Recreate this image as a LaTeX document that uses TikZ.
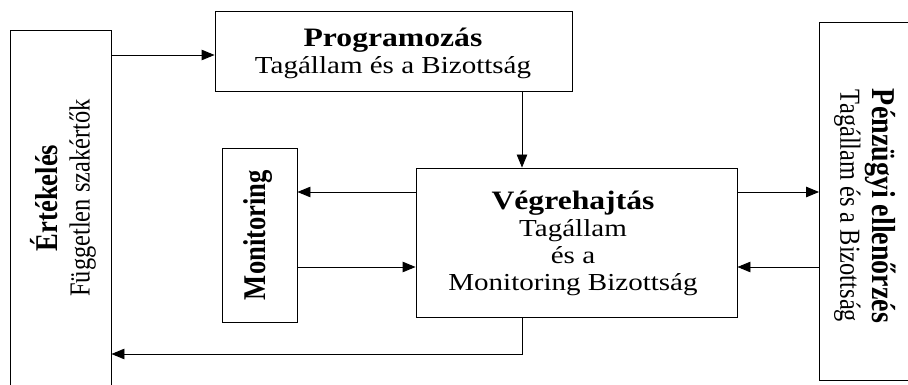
\documentclass[tikz,border=0pt]{standalone}
\usepackage{fontspec}
\setmainfont{Liberation Serif}
\usetikzlibrary{arrows.meta}
\begin{document}
\begin{tikzpicture}[x=1pt,y=-1pt,
  line width=0.9pt,
  boxstyle/.style={draw, line width=0.9pt, inner sep=0pt, fill=none},
  lbl/.style={align=center, inner sep=0pt, xscale=1.19,
    font=\fontsize{24.4}{27}\selectfont},
  arr/.style={-{Triangle[length=13pt,width=10.5pt]}}
]
\newcommand{\hdtxt}[1]{{\fontsize{26.6}{27}\selectfont\bfseries #1}}
\useasboundingbox (0,0) rectangle (908,385);
% boxes
\node[boxstyle, minimum width=101pt, minimum height=370pt] (eval) at (60.5,215) {};
\node[boxstyle, minimum width=357pt, minimum height=80pt] (prog) at (393.5,51) {};
\node[boxstyle, minimum width=321pt, minimum height=149pt] (vegre) at (576.5,242.5) {};
\node[boxstyle, minimum width=75pt, minimum height=174pt] (mon) at (259.5,235) {};
\node[boxstyle, minimum width=110pt, minimum height=358pt] (penz) at (874.5,201) {};
% labels
\node[lbl, rotate=90] (evaltxt) at (63,198) {\hdtxt{Értékelés}\\Független szakértők};
\node[lbl] (progtxt) at (393,53) {\hdtxt{Programozás}\\Tagállam és a Bizottság};
\node[lbl] (vegretxt) at (573,243) {\hdtxt{Végrehajtás}\\Tagállam\\és a\\Monitoring Bizottság};
\node[lbl, rotate=90] (montxt) at (258,235) {\hdtxt{Monitoring}};
\node[lbl, rotate=-90] (penztxt) at (865,206) {{\fontsize{28}{27}\selectfont\bfseries Pénzügyi ellenőrzés}\\Tagállam és a Bizottság};
% connectors
\draw[arr] (eval.east |- 0,55) -- (prog.west |- 0,55);
\draw[arr] (prog.south -| 522,0) -- (vegre.north -| 522,0);
\draw[arr] (vegre.west |- 0,192) -- (mon.east |- 0,192);
\draw[arr] (mon.east |- 0,267) -- (vegre.west |- 0,267);
\draw[arr] (vegre.east |- 0,192) -- (penz.west |- 0,192);
\draw[arr] (penz.west |- 0,267) -- (vegre.east |- 0,267);
\draw[arr] (vegre.south -| 522,0) |- (eval.east |- 0,354);
\end{tikzpicture}
\end{document}
